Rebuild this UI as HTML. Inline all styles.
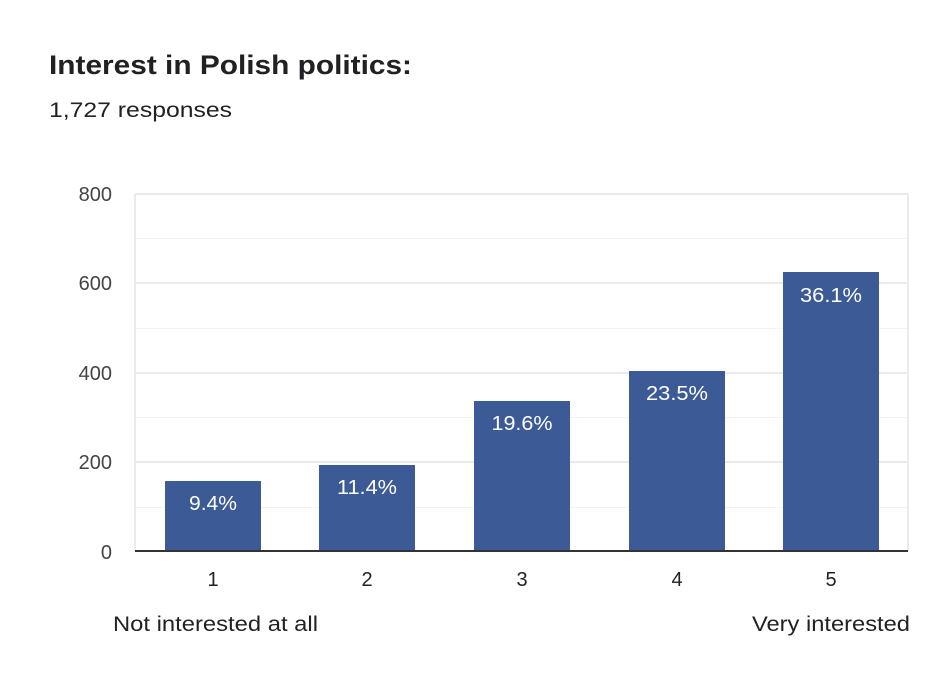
<!DOCTYPE html>
<html><head><meta charset="utf-8"><style>
body{margin:0;background:#fff;width:950px;height:681px;overflow:hidden;font-family:"Liberation Sans",Arial,sans-serif;}
</style></head><body>
<svg width="950" height="681" xmlns="http://www.w3.org/2000/svg" font-family="Liberation Sans, Arial, sans-serif">
<rect width="950" height="681" fill="#fff"/>
<text x="49" y="74" font-size="27" font-weight="bold" fill="#202124" textLength="363" lengthAdjust="spacingAndGlyphs">Interest in Polish politics:</text>
<text x="49" y="117" font-size="21" fill="#202124" textLength="183" lengthAdjust="spacingAndGlyphs">1,727 responses</text>
<g stroke="#f3f3f3" stroke-width="1">
<line x1="135" y1="238.5" x2="908" y2="238.5"/>
<line x1="135" y1="328.5" x2="908" y2="328.5"/>
<line x1="135" y1="417.5" x2="908" y2="417.5"/>
<line x1="135" y1="507.5" x2="908" y2="507.5"/>
</g>
<g stroke="#ebebeb" stroke-width="2">
<line x1="135" y1="194" x2="908" y2="194"/>
<line x1="135" y1="283" x2="908" y2="283"/>
<line x1="135" y1="373" x2="908" y2="373"/>
<line x1="135" y1="462" x2="908" y2="462"/>
<line x1="135" y1="194" x2="135" y2="551"/>
<line x1="908" y1="194" x2="908" y2="551"/>
</g>
<g fill="#3c5b96">
<rect x="165" y="481" width="96" height="70"/>
<rect x="319" y="465" width="96" height="86"/>
<rect x="474" y="401" width="96" height="150"/>
<rect x="629" y="371" width="96" height="180"/>
<rect x="783" y="272" width="96" height="279"/>
</g>
<line x1="135" y1="551" x2="908" y2="551" stroke="#333" stroke-width="2"/>
<g font-size="20" fill="#fff" text-anchor="middle" lengthAdjust="spacingAndGlyphs">
<text x="213" y="510" textLength="48" lengthAdjust="spacingAndGlyphs">9.4%</text>
<text x="367" y="494" textLength="60" lengthAdjust="spacingAndGlyphs">11.4%</text>
<text x="522" y="430" textLength="61" lengthAdjust="spacingAndGlyphs">19.6%</text>
<text x="677" y="400" textLength="62" lengthAdjust="spacingAndGlyphs">23.5%</text>
<text x="831" y="302" textLength="62" lengthAdjust="spacingAndGlyphs">36.1%</text>
</g>
<g font-size="20" fill="#444" text-anchor="end">
<text x="112" y="201">800</text>
<text x="112" y="290">600</text>
<text x="112" y="380">400</text>
<text x="112" y="469">200</text>
<text x="112" y="559">0</text>
</g>
<g font-size="20" fill="#222" text-anchor="middle">
<text x="213" y="586">1</text>
<text x="367" y="586">2</text>
<text x="522" y="586">3</text>
<text x="677" y="586">4</text>
<text x="831" y="586">5</text>
</g>
<text x="113" y="631" font-size="21" fill="#222" textLength="205" lengthAdjust="spacingAndGlyphs">Not interested at all</text>
<text x="752" y="631" font-size="21" fill="#222" textLength="158" lengthAdjust="spacingAndGlyphs">Very interested</text>
</svg>
</body></html>
